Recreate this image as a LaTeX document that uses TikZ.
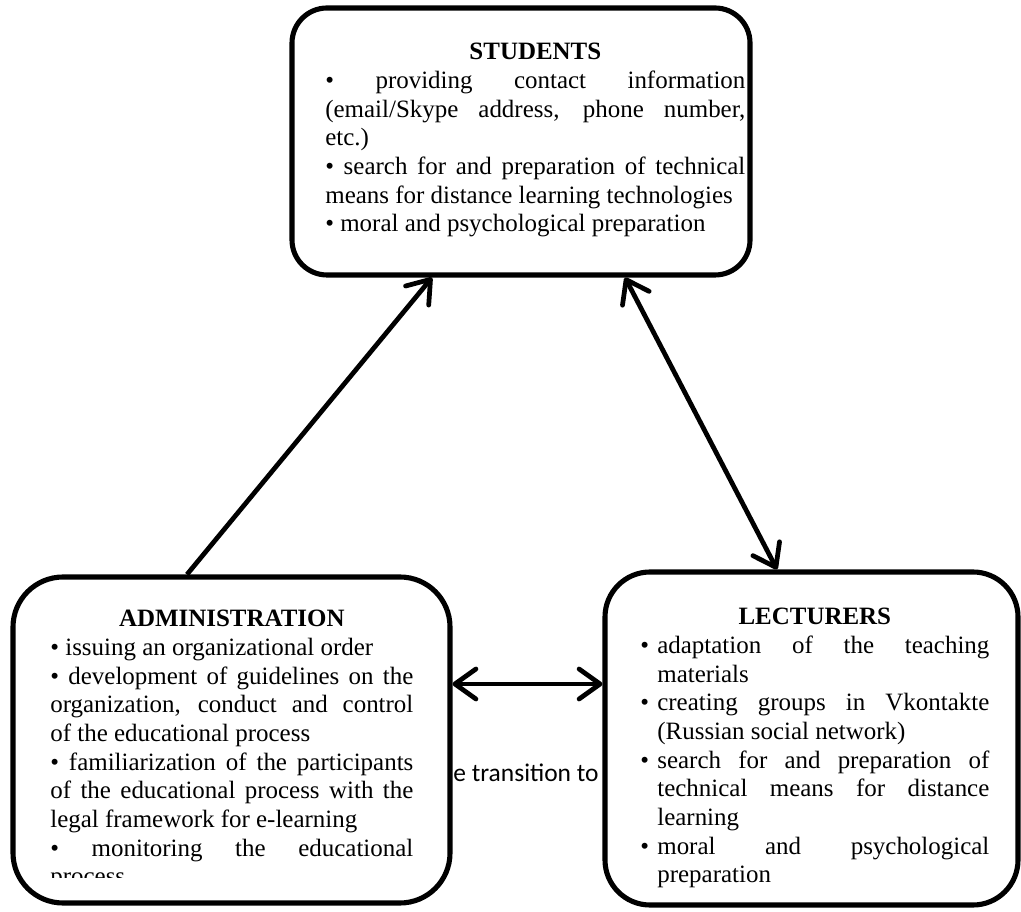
\documentclass[tikz,border=0pt]{standalone}
\usepackage{fontspec}
\setmainfont{Liberation Serif}
\newfontfamily\calibri{Carlito}
\usepackage{tikz}
\usetikzlibrary{positioning, arrows, arrows.meta, shapes}
\tikzstyle{arrow} = [line width=2.7pt,->,>={Straight Barb[round,length=4.2mm,width=6mm]}]
\tikzstyle{edge} = [arrow,<->]
\setlength{\parindent}{0pt}
\hyphenpenalty=10000
\exhyphenpenalty=10000
\tolerance=10000
% bullet item with hanging indent (lecturers box)
\newcommand{\lecitem}[1]{\par\hangindent=0.34cm\hangafter=1\noindent\makebox[0.34cm][l]{\textbullet}#1\par}

\begin{document}
\begin{tikzpicture}
                    \tikzstyle{every node}=[inner sep=0pt] \tikzstyle{box} =
                    [rectangle, draw=black, line width=2.9pt] \tikzstyle{boxtext} =
                    [anchor=base west, align=justify, font=\fontsize{14.2pt}{16.3pt}\selectfont]

                    \useasboundingbox (0,0) rectangle (20.42,18.22);

                    \node[box, rounded corners=0.7cm, minimum width=9.16cm, minimum height=5.34cm](students) at (10.42,15.39) {};
                    \node[box, rounded corners=1cm, minimum width=8.74cm, minimum height=6.52cm](admin) at (4.63,3.42) {};
                    \node[box, rounded corners=0.9cm, minimum width=8.26cm, minimum height=6.66cm](lecturers) at (16.23,3.45) {};

                    \node[boxtext, text width=8.4cm](studentstext) at (6.5,17.02) {{\centering\textbf{STUDENTS}\par}
                    \textbullet{} providing contact information\linebreak (email/Skype address, phone number,\linebreak etc.)\par
                    \textbullet{} search for and preparation of technical\linebreak means for distance learning technologies\par
                    \textbullet{} moral and psychological preparation};

                    \begin{scope}
                    \clip (0,0.68) rectangle (20.42,18.22);
                    \node[boxtext, text width=7.26cm](admintext) at (1.0,5.68) {{\centering\textbf{ADMINISTRATION}\par}
                    \textbullet{} issuing an organizational order\par
                    \textbullet{} development of guidelines on the\linebreak organization, conduct and control\linebreak of the educational process\par
                    \textbullet{} familiarization of the participants\linebreak of the educational process with the\linebreak legal framework for e-learning\par
                    \textbullet{} monitoring the educational\linebreak process};
                    \end{scope}

                    \node[boxtext, text width=6.98cm](lecturerstext) at (12.80,5.72) {{\centering\textbf{LECTURERS}\par}
                    \lecitem{adaptation of the teaching\linebreak materials}
                    \lecitem{creating groups in Vkontakte\linebreak (Russian social network)}
                    \lecitem{search for and preparation of\linebreak technical means for distance\linebreak learning}
                    \lecitem{moral and psychological\linebreak preparation}};

                    \node[anchor=base west, font=\calibri\fontsize{14.5pt}{17pt}\selectfont](transition) at (9.06,2.58) {e transition to};

                    \draw[arrow] ([xshift=-0.89cm]admin.north) -- ([xshift=-1.78cm]students.south);
                    \draw[edge] ([xshift=2.08cm]students.south) -- ([xshift=-0.69cm]lecturers.north);
                    \draw[edge] ([yshift=1.12cm]admin.east) -- ([yshift=1.12cm]admin.east -| lecturers.west);

\end{tikzpicture}
\end{document}
